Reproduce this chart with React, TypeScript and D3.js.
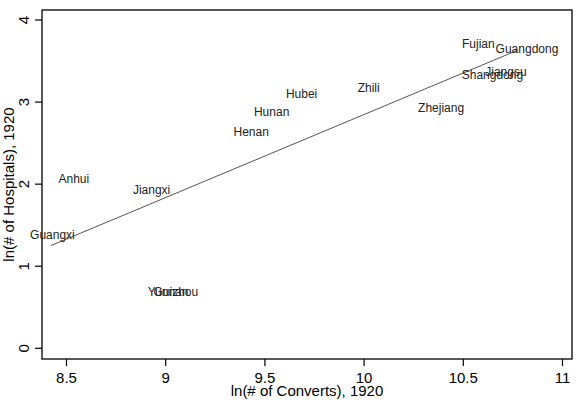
import React from "react";
import * as d3 from "d3";

const provinces = ["Anhui", "Jiangxi", "Guangxi", "Yunnan", "Guizhou", "Henan", "Hunan", "Hubei", "Zhili", "Zhejiang", "Fujian", "Guangdong", "Jiangsu", "Shangdong"];
const lnConverts = [8.537, 8.929, 8.429, 9.012, 9.051, 9.431, 9.534, 9.685, 10.023, 10.388, 10.576, 10.821, 10.715, 10.647];
const lnHospitals = [2.071, 1.937, 1.38, 0.686, 0.686, 2.632, 2.883, 3.095, 3.18, 2.931, 3.707, 3.646, 3.37, 3.33];

const fitX = [8.422, 10.775];
const fitY = [1.252, 3.633];

const xTicks = [8.5, 9, 9.5, 10, 10.5, 11];
const yTicks = [0, 1, 2, 3, 4];
const xTitle = "ln(# of Converts), 1920";
const yTitle = "ln(# of Hospitals), 1920";

const W = 579;
const H = 406;
const box = { left: 42, right: 572, top: 10, bottom: 359 };
const font = "'Liberation Sans', Arial, Helvetica, sans-serif";

export default function App() {
  const x = d3.scaleLinear().domain([8.5, 11]).range([66.5, 562.5]);
  const y = d3.scaleLinear().domain([0, 4]).range([348.3, 20]);
  const line = d3
    .line<number>()
    .x((d) => x(d))
    .y((_, i) => y(fitY[i]));

  return (
    <svg
      width={W}
      height={H}
      style={{ position: "absolute", left: 0, top: 0, display: "block", background: "#fff" }}
      fontFamily={font}
    >
      <rect x={0} y={0} width={W} height={H} fill="#fff" />
      <path d={line(fitX) || ""} fill="none" stroke="#555" strokeWidth={1} />
      {provinces.map((p, i) => (
        <text
          key={p}
          x={x(lnConverts[i])}
          y={y(lnHospitals[i])}
          dy="0.35em"
          textAnchor="middle"
          fontSize={12}
          fill="#222"
        >
          {p}
        </text>
      ))}
      <rect
        x={box.left}
        y={box.top}
        width={box.right - box.left}
        height={box.bottom - box.top}
        fill="none"
        stroke="#000"
        strokeWidth={1.3}
      />
      {xTicks.map((t) => (
        <g key={"x" + t}>
          <line x1={x(t)} x2={x(t)} y1={box.bottom} y2={box.bottom + 7} stroke="#000" strokeWidth={1.2} />
          <text x={x(t)} y={382.5} textAnchor="middle" fontSize={15} fill="#000">
            {t}
          </text>
        </g>
      ))}
      {yTicks.map((t) => (
        <g key={"y" + t}>
          <line x1={box.left - 7} x2={box.left} y1={y(t)} y2={y(t)} stroke="#000" strokeWidth={1.2} />
          <text
            transform={`translate(29,${y(t)}) rotate(-90)`}
            textAnchor="middle"
            fontSize={15}
            fill="#000"
          >
            {t}
          </text>
        </g>
      ))}
      <text x={(box.left + box.right) / 2} y={396} textAnchor="middle" fontSize={15} fill="#000">
        {xTitle}
      </text>
      <text
        transform={`translate(13.5,${(box.top + box.bottom) / 2}) rotate(-90)`}
        textAnchor="middle"
        fontSize={15}
        fill="#000"
      >
        {yTitle}
      </text>
    </svg>
  );
}
